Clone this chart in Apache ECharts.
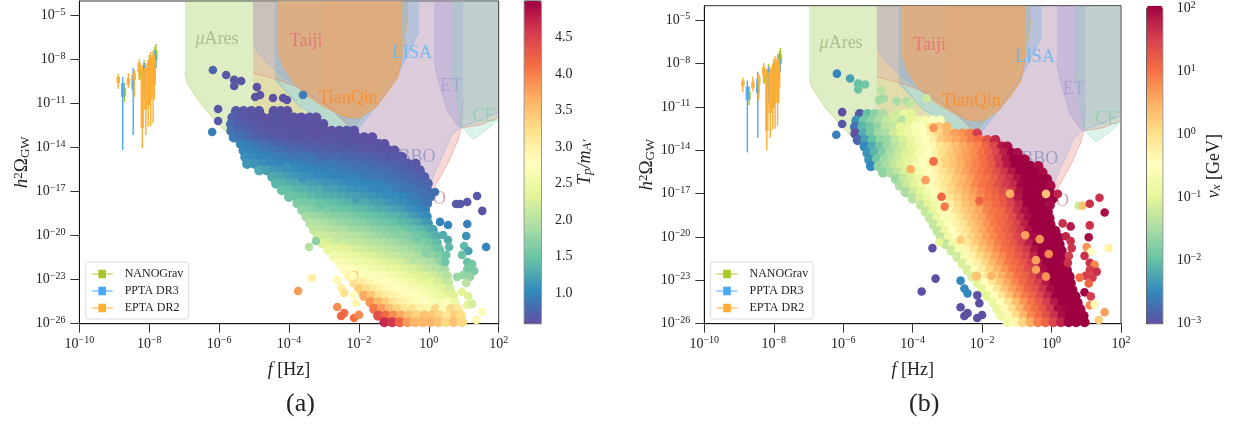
<!DOCTYPE html>
<html><head><meta charset="utf-8">
<script src="https://cdn.jsdelivr.net/npm/echarts@6/dist/echarts.min.js"></script>
<style>html,body{margin:0;padding:0;background:#fff}#c{width:1234px;height:425px}</style>
</head><body><div id="c"></div>
<script>
// ---------- values (log10 of f and of h^2 Omega) ----------
const omegaRows=[-11.5,-11.95,-12.4,-12.85,-13.3,-13.75,-14.2,-14.65,-15.1,-15.55,-16,-16.45,-16.9,-17.35,-17.8,-18.25,-18.7,-19.15,-19.6,-20.05,-20.5,-20.95,-21.4,-21.85,-22.3,-22.75,-23.2,-23.65,-24.1,-24.55,-25,-25.45,-25.9];
const fRows=[
[-5.52,-5.3,-5.08,-4.86,-4.44,-4.24,-4.05],
[-5.62,-5.41,-5.18,-4.97,-4.75,-4.52,-4.31,-4.08,-3.86,-3.65,-3.42,-3.22],
[-5.66,-5.45,-5.22,-5.0,-4.79,-4.56,-4.34,-4.12,-3.9,-3.69,-3.46,-3.24,-3.02],
[-5.65,-5.42,-5.21,-4.98,-4.76,-4.55,-4.33,-4.11,-3.88,-3.67,-3.45,-3.23,-3.0,-2.79,-2.56,-2.35,-2.14],
[-5.58,-5.36,-5.15,-4.92,-4.7,-4.49,-4.27,-4.04,-3.83,-3.6,-3.39,-3.17,-2.95,-2.73,-2.5,-2.29,-2.07,-1.85,-1.62],
[-5.38,-5.16,-4.94,-4.72,-4.5,-4.28,-4.06,-3.85,-3.63,-3.41,-3.2,-2.97,-2.75,-2.53,-2.31,-2.1,-1.88,-1.65,-1.43,-1.27],
[-5.3,-5.09,-4.87,-4.65,-4.43,-4.21,-3.99,-3.78,-3.55,-3.33,-3.12,-2.9,-2.68,-2.46,-2.24,-2.02,-1.8,-1.58,-1.36,-1.14,-0.98],
[-5.25,-5.03,-4.81,-4.59,-4.38,-4.16,-3.94,-3.71,-3.5,-3.28,-3.06,-2.84,-2.62,-2.4,-2.19,-1.96,-1.75,-1.53,-1.31,-1.09,-.87,-.77],
[-5.2,-4.98,-4.76,-4.54,-4.33,-4.11,-3.89,-3.67,-3.45,-3.24,-3.01,-2.79,-2.57,-2.35,-2.14,-1.91,-1.7,-1.48,-1.26,-1.04,-.82,-.6,-.38],
[-4.85,-4.63,-4.42,-4.2,-3.98,-3.76,-3.54,-3.32,-3.1,-2.89,-2.66,-2.45,-2.23,-2.01,-1.79,-1.57,-1.35,-1.13,-.91,-.7,-.48,-.26],
[-4.48,-4.26,-4.05,-3.83,-3.61,-3.39,-3.17,-2.95,-2.74,-2.52,-2.3,-2.08,-1.86,-1.64,-1.42,-1.2,-.98,-.76,-.55,-.33,-.13],
[-4.37,-4.15,-3.93,-3.71,-3.49,-3.28,-3.06,-2.84,-2.62,-2.4,-2.18,-1.97,-1.75,-1.53,-1.31,-1.09,-.87,-.65,-.43,-.21,-.03],
[-4.2,-3.98,-3.76,-3.55,-3.33,-3.11,-2.89,-2.67,-2.45,-2.23,-2.01,-1.79,-1.58,-1.36,-1.14,-.92,-.7,-.48,-.26,-.05],
[-4,-3.78,-3.56,-3.35,-3.13,-2.91,-2.69,-2.47,-2.25,-2.03,-1.81,-1.6,-1.38,-1.16,-.94,-.72,-.5,-.28,-.07,.03],
[-3.76,-3.55,-3.33,-3.11,-2.89,-2.67,-2.45,-2.23,-2.02,-1.8,-1.58,-1.36,-1.14,-.92,-.7,-.48,-.26,-.05],
[-3.62,-3.4,-3.18,-2.96,-2.74,-2.52,-2.3,-2.08,-1.86,-1.64,-1.43,-1.21,-.99,-.77,-.55,-.33,-.11],
[-3.5,-3.29,-3.07,-2.85,-2.63,-2.41,-2.19,-1.97,-1.75,-1.53,-1.31,-1.1,-.88,-.66,-.44,-.22,-.06],
[-3.39,-3.17,-2.95,-2.73,-2.51,-2.29,-2.07,-1.85,-1.64,-1.42,-1.2,-.98,-.76,-.54,-.32,-.1,-.03],
[-3.28,-3.06,-2.84,-2.62,-2.4,-2.18,-1.97,-1.75,-1.53,-1.31,-1.09,-.87,-.65,-.43,-.21,.01,.11],
[-3.18,-2.96,-2.74,-2.52,-2.3,-2.08,-1.86,-1.64,-1.42,-1.2,-.98,-.76,-.54,-.32,-.1,.12,.21],
[-3.05,-2.83,-2.61,-2.39,-2.17,-1.95,-1.73,-1.51,-1.29,-1.07,-.85,-.63,-.41,-.19,.03,.23],
[-2.88,-2.66,-2.44,-2.22,-2,-1.78,-1.56,-1.35,-1.13,-.91,-.69,-.47,-.25,-.03,.19,.29],
[-2.71,-2.49,-2.27,-2.05,-1.83,-1.61,-1.39,-1.17,-.95,-.73,-.51,-.29,-.07,.15,.29],
[-2.56,-2.34,-2.12,-1.9,-1.68,-1.46,-1.24,-1.02,-.8,-.58,-.36,-.14,.08,.3,.4],
[-2.42,-2.2,-1.98,-1.76,-1.54,-1.32,-1.1,-.88,-.66,-.44,-.22,0,.22,.44],
[-2.28,-2.06,-1.84,-1.62,-1.4,-1.18,-.96,-.74,-.52,-.3,-.08,.14,.36,.52],
[-2.13,-1.91,-1.69,-1.47,-1.25,-1.03,-.81,-.59,-.37,-.15,.07,.29,.55],
[-1.99,-1.77,-1.55,-1.33,-1.11,-.89,-.67,-.45,-.23,-.01,.21,.43,.6],
[-1.85,-1.63,-1.41,-1.19,-.97,-.75,-.53,-.31,-.09,.13,.35,.57,.69],
[-1.67,-1.45,-1.23,-1.01,-.79,-.57,-.35,-.13,.09,.31,.53,.75],
[-1.56,-1.34,-1.12,-.9,-.68,-.46,-.24,-.02,.2,.42,.64,.83],
[-1.45,-1.23,-1.01,-.79,-.57,-.35,-.13,.09,.31,.53,.75,.92],
[-1.27,-1.05,-.83,-.61,-.39,-.17,.05,.27,.49,.71,.95]];
const tpRows=[
[.68,.64,.62,.63,.6,.62,.6],
[.72,.66,.63,.62,.6,.61,.62,.6,.63,.6,.62,.6],
[.78,.7,.66,.63,.62,.6,.62,.6,.61,.6,.62,.6,.6],
[.85,.78,.72,.68,.65,.62,.62,.63,.6,.62,.6,.6,.62,.6,.6,.62,.6],
[.92,.85,.78,.72,.7,.66,.65,.63,.64,.62,.62,.6,.62,.62,.6,.62,.6,.6,.6],
[.98,.92,.86,.82,.78,.74,.72,.7,.68,.66,.66,.64,.66,.63,.62,.64,.62,.6,.62,.6],
[1.02,.98,.95,.9,.86,.84,.8,.78,.76,.74,.72,.72,.7,.68,.7,.66,.64,.65,.62,.62,.6],
[1.08,1.04,1.0,.98,.95,.9,.88,.86,.84,.82,.8,.78,.8,.76,.74,.72,.72,.7,.68,.66,.64,.62],
[1.15,1.12,1.08,1.05,1.02,1,.98,.96,.94,.9,.88,.9,.86,.84,.82,.8,.8,.76,.74,.72,.7,.66,.62],
[1.25,1.2,1.15,1.12,1.1,1.05,1.02,1,.98,.95,.96,.92,.9,.88,.88,.84,.82,.8,.76,.74,.7,.65],
[1.3,1.25,1.2,1.15,1.12,1.1,1.05,1.04,1,1,.98,.98,.92,.9,.9,.85,.84,.8,.78,.74,.7],
[1.38,1.35,1.3,1.28,1.2,1.18,1.14,1.12,1.1,1.06,1.04,1.02,1,.98,.95,.9,.88,.85,.8,.78,.74],
[1.45,1.42,1.38,1.35,1.3,1.28,1.22,1.2,1.16,1.12,1.1,1.08,1.04,1,1,.95,.9,.88,.84,.78],
[1.52,1.48,1.45,1.4,1.38,1.32,1.3,1.26,1.22,1.2,1.15,1.12,1.1,1.05,1.04,1,.95,.9,.86,.82],
[1.62,1.58,1.55,1.5,1.45,1.42,1.38,1.35,1.3,1.28,1.22,1.2,1.15,1.1,1.08,1,.96,.88],
[1.72,1.68,1.62,1.6,1.55,1.5,1.48,1.42,1.4,1.36,1.3,1.28,1.22,1.18,1.1,1.05,.98],
[1.88,1.82,1.78,1.72,1.68,1.65,1.6,1.55,1.5,1.48,1.42,1.38,1.34,1.28,1.2,1.12,1.05],
[1.98,1.94,1.9,1.84,1.8,1.75,1.7,1.68,1.6,1.55,1.52,1.48,1.4,1.35,1.28,1.2,1.15],
[2.08,2.04,2,1.95,1.92,1.85,1.82,1.78,1.72,1.68,1.62,1.58,1.52,1.45,1.4,1.32,1.25],
[2.18,2.14,2.1,2.05,2.02,1.98,1.92,1.88,1.82,1.78,1.72,1.68,1.62,1.55,1.48,1.4,1.32],
[2.3,2.25,2.2,2.16,2.1,2.08,2.02,1.98,1.92,1.88,1.82,1.76,1.7,1.64,1.55,1.42],
[2.42,2.38,2.32,2.28,2.22,2.18,2.12,2.08,2.02,1.96,1.92,1.85,1.78,1.7,1.6,1.5],
[2.55,2.5,2.45,2.4,2.32,2.28,2.2,2.15,2.1,2.02,1.98,1.9,1.82,1.75,1.65],
[2.68,2.62,2.55,2.5,2.45,2.38,2.32,2.25,2.2,2.12,2.06,2,1.92,1.82,1.72],
[2.82,2.75,2.7,2.62,2.58,2.5,2.42,2.36,2.3,2.22,2.15,2.08,2,1.9],
[2.95,2.88,2.8,2.76,2.68,2.62,2.55,2.48,2.4,2.32,2.25,2.18,2.08,2],
[3.2,3.05,2.95,2.85,2.8,2.72,2.65,2.58,2.5,2.42,2.35,2.25,2.08],
[3.4,3.25,3.05,2.95,2.88,2.8,2.75,2.66,2.6,2.52,2.42,2.32,2.2],
[3.7,3.45,3.2,3.05,2.95,2.88,2.82,2.75,2.65,2.58,2.45,2.38,2.3],
[3.85,3.6,3.4,3.15,3,2.92,2.85,2.78,2.7,2.62,2.85,2.5],
[4.05,3.8,3.55,3.35,3.15,3.2,3,2.92,3.3,2.85,3.3,3.1],
[4.4,4.15,3.9,3.7,3.5,3.35,3.5,3.45,3.3,3.1,3.4,3.25],
[4.7,4.6,4.2,3.8,3.6,3.6,3.6,3.5,3.3,3.5,3.3]];
const vxRows=[
[-2.9,-2.0,-1.7,-1.5,-1.2,-.9,-1.0],
[-2.4,-1.9,-1.7,-1.5,-1.3,-1.15,-1.4,-1,-.8,-.7,-.5,-.6],
[-2.7,-2.1,-1.9,-1.7,-1.4,-1.3,-1.0,-.9,-.6,-.55,-.1,.2,.4],
[-3,-2.2,-1.9,-1.6,-1.5,-1.2,-1.0,-.85,-.7,-.5,-.2,.1,.4,.6,.7,.85,1.5],
[-2.8,-2.3,-2,-1.7,-1.6,-1.3,-1.1,-.9,-.7,-.5,-.2,.2,.4,.55,.7,.9,1.0,1.3,1.7],
[-2.5,-2.2,-1.9,-1.6,-1.4,-1.2,-1,-.8,-.6,-.4,-.1,.1,.35,.55,.7,.85,1.1,1.4,1.8,1.9],
[-2.4,-2.1,-1.8,-1.5,-1.3,-1.1,-.95,-.7,-.5,-.3,0,.2,.4,.6,.75,.95,1.15,1.4,1.75,2,1.9],
[-2.4,-1.9,-1.6,-1.4,-1.2,-1.0,-.85,-.6,-.4,-.15,.1,.25,.5,.65,.8,1.0,1.2,1.5,1.8,2,2,1.95],
[-2.5,-1.7,-1.5,-1.3,-1.1,-.9,-.75,-.5,-.3,-.1,.15,.3,.5,.7,.85,1.0,1.2,1.55,1.8,2,2,2,1.9],
[-1.7,-1.5,-1.3,-1.1,-.9,-.7,-.5,-.3,-.05,.15,.4,.6,.8,.95,1.1,1.3,1.55,1.8,2,2,2,1.9],
[-1.6,-1.3,-1.1,-.9,-.7,-.45,-.2,0,.25,.4,.65,.85,.95,1.15,1.4,1.6,1.85,2,2,2,2],
[-1.5,-1.2,-1,-.8,-.55,-.3,-.05,.15,.4,.55,.8,.95,1.1,1.3,1.5,1.65,1.95,2,2,2,1.9],
[-1.5,-1.2,-.95,-.7,-.45,-.2,.05,.25,.45,.65,.85,1.0,1.15,1.35,1.55,1.85,2,2,2,2],
[-1.4,-1.1,-.85,-.6,-.35,-.1,.1,.35,.55,.75,.95,1.05,1.25,1.5,1.8,2,2,2,1.95,2],
[-1.3,-1,-.75,-.5,-.2,.05,.3,.5,.7,.9,1.05,1.2,1.45,1.7,2,2,2,1.9],
[-1.3,-.95,-.65,-.4,-.1,.15,.35,.55,.8,.95,1.05,1.3,1.6,1.85,2,2,2],
[-1.3,-.9,-.6,-.35,-.1,.2,.4,.6,.85,1.0,1.1,1.35,1.65,1.9,2,2,2],
[-1.3,-.9,-.55,-.3,-.05,.25,.45,.7,.9,1.05,1.2,1.45,1.75,2,2,2,2],
[-1.3,-.85,-.5,-.25,0,.3,.55,.75,.95,1.1,1.3,1.55,1.85,2,2,2,2],
[-1.3,-.8,-.45,-.2,.1,.35,.6,.8,1,1.15,1.4,1.6,1.9,2,2,2,2],
[-1.3,-.75,-.4,-.1,.2,.45,.65,.9,1.05,1.25,1.5,1.75,2,2,2,2],
[-1.2,-.7,-.35,-.05,.25,.5,.75,.95,1.1,1.3,1.55,1.85,2,2,2,2],
[-1.2,-.65,-.3,.05,.3,.6,.8,1,1.2,1.4,1.7,2,2,2,2],
[-1.1,-.6,-.25,.1,.4,.65,.9,1.05,1.25,1.5,1.8,2,2,2,1.95],
[-1.1,-.55,-.2,.15,.45,.7,.95,1.1,1.35,1.6,1.9,2,2,2],
[-1.1,-.55,-.15,.2,.5,.75,1,1.15,1.4,1.7,2,2,2,2],
[-1,-.5,-.1,.25,.55,.8,1.05,1.25,1.5,1.8,2,2,2],
[-1,-.5,-.1,.3,.6,.85,1.1,1.3,1.6,1.9,2,2,2],
[-1,-.5,-.1,.3,.65,.9,1.1,1.4,1.7,2,2,2,2],
[-.9,-.5,-.05,.35,.7,.95,1.2,1.5,1.8,2,2,2],
[-.9,-.45,0,.4,.75,1,1.25,1.55,1.9,1.95,2,2],
[-.85,-.4,.05,.45,.8,1.05,1.3,1.6,1.9,2,2,2],
[-.8,-.35,.1,.5,.85,1.1,1.4,1.7,2,2,2]];
// isolated and speckle points: log f, log Omega, Tp/mA', log vx
const strayF=[-6.18,-5.8,-5.57,-5.37,-5.57,-4.92,-4.97,-4.83,-4.46,-4.17,-4.06,-3.6,-6.03,-6.03,-6.2,.18,1.38,.78,.9,1.1,1.53,1.1,.55,.32,.41,1.07,.55,.58,1.64,1.01,1.13,.5,.95,.47,1.1,1.24,1.1,1.3,.98,.81,1.18,1.07,.95,1.13,1.1,1.24,1.53,1.36,-3.43,-3.23,-3.34,-3.74,-2.62,-2.51,-2.42,-2.14,-2.62,-2.42,-2.51,-2.14,-2,-2.08,-2.14,
-3.4,-4.06,-3.63,-3.17,-3.08,-2.08,-2.62,-2.17,-1.74,-.76,-.34,-.08,-.45,-.45,-.16,-.16,-1.2,-3.4];
const strayO=[-8.7,-9.04,-9.38,-9.45,-9.79,-9.86,-10.54,-10.41,-10.61,-10.61,-10.75,-10.41,-11.36,-12.18,-12.93,-17.02,-17.29,-17.84,-17.84,-17.7,-18.31,-19.2,-19.27,-19.06,-19.95,-20.02,-20.29,-20.77,-20.77,-20.7,-21.04,-21.31,-21.31,-21.79,-21.79,-21.93,-22.27,-22.4,-22.68,-22.81,-22.81,-23.22,-23.83,-24.11,-24.72,-24.65,-25.2,-25.74,-20.77,-20.36,-22.88,-23.77,-23.02,-23.56,-23.9,-22.68,-24.86,-25.27,-25.47,-25.61,-25.4,-24.58,-24.04,
-14.77,-15.31,-16.07,-17.22,-17.9,-17.5,-20.2,-22.74,-22.68,-19.88,-20.15,-21.18,-21.6,-22.27,-22.74,-17.02,-17,-12.45];
const strayTp=[.75,.65,.62,.62,.62,.6,.62,.62,.6,.6,.6,.9,.62,.65,.95,.85,.65,.65,.65,.65,.62,.95,1,1,1.3,1.1,1.3,1.4,1,1.4,1.2,1.5,1.5,1.5,1.45,1.55,1.6,1.6,1.75,1.8,1.75,2,2.35,2.3,2.35,2.2,2.7,2.9,2,1.7,3,3.8,2.9,3,3.2,3.5,3.9,4.1,4.2,4.1,3.9,2.9,2.8,
.9,1.1,1.1,1.35,1.5,1.2,2.1,2.85,2.7,1.7,1.55,1.7,2,2.25,2.3,.85,1.05,.6];
const strayVx=[-2.5,-2.3,-2,-1.9,-1.95,-1.4,-1.55,-1.55,-1.5,-1.5,-1.3,-1.2,-3,-2.9,-2.6,1.7,1.6,-1.2,.3,1.6,1.9,1.6,1.8,1.6,1.7,1.9,1.6,1.6,-.3,.7,-.5,1.5,1.6,1.6,1.6,.8,1.5,1.6,1.5,1,1.5,1.1,2,1.5,.8,-.4,.6,.2,-3,-1,-3,-3,-2.5,-2.5,-2.5,.3,-3,-3,-3,-3,-3,-3,-3,
1,.5,.6,1.1,.9,1.1,.2,.3,.4,.6,.7,.8,.6,.6,.7,.3,.5,.7];
// detector sensitivity curves
const detectorNames=['μAres','DECIGO','BBO','LISA','Taiji','TianQin','ET','CE'];
const detectorColors=['#9dc84f','#e0705f','#8aa8f0','#63afe2','#e8aa73','#ff8c1a','#a090d5','#7fd6b0'];
const detectorAlpha=[.33,.27,.25,.3,.8,.06,.3,.27];
const detF=[
[-6.98,-6.92,-6.55,-6.06,-5.6,-4.92,-4.4,-3.68,-2.83,-2.25,-1.68,-1.1,-.82,-.6],
[-5.03,-4.31,-3.68,-2.83,-2.11,-.82,-.11,.15,.55,.84,.93,1.47,1.98],
[-5.03,-4.89,-4.63,-4.34,-4.06,-3.68,-2.83,-2.11,-1.39,-.39,-.02,.3,.65,.93,1.47,1.98],
[-4.4,-3.68,-3.03,-2.54,-2.11,-1.48,-.82,-.28],
[-4.34,-4.17,-3.88,-3.54,-2.97,-2.4,-1.97,-1.54,-1.17,-.88,-.76],
[-3.03,-2.4,-1.97,-1.54,-1.17,-.88,-.7,-.6],
[.15,.27,.52,.81,.93,.98],
[.67,.7,.81,.9,1.1,1.27,1.47,1.75,1.98]];
const detO=[
[-8.84,-9.59,-10.95,-12.31,-13.47,-15.04,-16.2,-16.75,-15.52,-13.13,-11.09,-9,-7.4,-5],
[-8.91,-9.38,-9.93,-11.29,-13,-17.56,-17.4,-16.75,-15.04,-13.47,-12.66,-12.45,-11.97],
[-6.86,-7.54,-8.22,-8.84,-9.38,-9.93,-11.29,-12.79,-15.52,-17.22,-16.75,-15.04,-13.13,-12.59,-12.11,-11.63],
[-9.38,-11.22,-12.11,-12.79,-13,-11.09,-8.7,-6.11],
[-7.27,-8.5,-9.59,-10.41,-11.29,-11.91,-11.91,-11.29,-10.2,-9.18,-7.68],
[-10.9,-11.91,-12,-11.3,-10.2,-9.2,-7,-5],
[-8.02,-9.38,-11.43,-12.45,-12.66,-10.75],
[-8.7,-9.38,-10.75,-12.45,-13,-13.4,-13.13,-12.59,-12.1]];
// beige wedge seen below DECIGO and left of the teal zone
const wedgeF=[-5.03,-4.31,-3.68,-3.0,-3.0,-3.68,-4.4,-4.92,-5.03];
const wedgeO=[-8.91,-9.38,-11.22,-13,-16.4,-16.6,-16.1,-14.95,-14.7];
const labelF=[-6.06,-.48,-.34,-.48,-3.51,-2.31,.64,1.58];
const labelO=[-6.59,-17.5,-14.63,-7.54,-6.77,-10.61,-9.79,-11.84];
const labelColors=['#a3b27a','#c98f9e','#8c93c0','#5bb5f5','#e56a70','#ff8a1f','#a99bd0','#86d0ae'];
const labelTexts=['{i|μ}Ares','DECIGO','BBO','LISA','Taiji','TianQin','ET','CE'];
// pulsar timing arrays: log f, whisker top, box top, box bottom, whisker bottom (log Omega)
const ptaNames=['NANOGrav','PPTA DR3','EPTA DR2'];
const ptaColors=['#a8c72b','#4aa8f8','#ffad33'];
const ptaF=[[-8.71,-8.26,-8.15,-8.0,-7.84,-7.81],[-8.76,-8.46,-8.15,-8.0,-7.84],[-8.89,-8.6,-8.43,-8.29,-8.2,-8.1,-8.03,-7.96,-7.89,-7.86]];
const ptaHi=[[-9.59,-8.36,-8.02,-7.68,-7.13,-6.93],[-9.18,-8.57,-8.22,-8.02,-7.34],[-8.97,-8.91,-8.7,-7.95,-8.36,-8.22,-8.02,-7.47,-7.34,-7.68]];
const ptaQ3=[[-9.93,-8.7,-8.4,-8.02,-7.47,-7.34],[-9.59,-9.04,-8.43,-8.36,-7.68],[-9.18,-9.25,-8.91,-8.22,-8.7,-8.57,-8.3,-7.88,-7.68,-8.02]];
const ptaQ1=[[-10.47,-9.18,-8.9,-9.04,-8.02,-8.02],[-10.54,-10.06,-9.72,-9.72,-8.57],[-9.59,-9.72,-9.38,-8.84,-12.66,-11.43,-11.09,-10.75,-10.41,-9.72]];
const ptaLo=[[-10.88,-9.38,-9.38,-9.72,-8.7,-8.57],[-14.15,-13.13,-10.75,-11.09,-9.18],[-10,-9.93,-10.54,-9.38,-14.02,-13.13,-12.59,-12.52,-12.31,-10.75]];
// tick labels
const fTicks=[-10,-8,-6,-4,-2,0,2];
const omegaTicks=[-26,-23,-20,-17,-14,-11,-8,-5];
const tpTicks=[1,1.5,2,2.5,3,3.5,4,4.5];
const vxTicks=[-3,-2,-1,0,1,2];
const spectral=['#5e4fa2','#3288bd','#66c2a5','#abdda4','#e6f598','#ffffbf','#fee08b','#fdae61','#f46d43','#d53e4f','#9e0142'];

// ---------- chart ----------
const FONT='"Liberation Serif",serif';
const INK='#222';
const tickRich={b:{fontFamily:FONT,fontSize:14,color:INK,lineHeight:16},s:{fontFamily:FONT,fontSize:10,color:INK,padding:[0,0,7,0]}};
const pow10=e=>Math.pow(10,e);
const expFmt=v=>{const e=Math.round(Math.log10(v));return '{b|10}{s|'+(e<0?'−'+(-e):e)+'}';};
function logAxis(grid,lo,hi,ticks,margin,extra){
  const vals=ticks.map(pow10);
  return Object.assign({type:'log',logBase:10,gridIndex:grid,min:pow10(lo),max:pow10(hi),
    axisLine:{show:true,onZero:false,lineStyle:{color:'#111',width:1}},
    axisTick:{show:true,length:9,inside:false,customValues:vals,lineStyle:{color:'#333',width:1}},
    minorTick:{show:false},splitLine:{show:false},
    axisLabel:{show:true,margin:margin,customValues:vals,formatter:expFmt,rich:tickRich,showMinLabel:true,showMaxLabel:true,hideOverlap:false}},extra||{});
}
const grids=[
 {left:79.4,top:1,width:419.3,height:322.7,show:true,borderColor:'#333',borderWidth:1,backgroundColor:'#fff'},
 {left:704.3,top:5.7,width:416.7,height:318,show:true,borderColor:'#333',borderWidth:1,backgroundColor:'#fff'},
 {left:524.3,top:1,width:16.7,height:322.7,show:true,borderColor:'#333',borderWidth:1},
 {left:1146.7,top:5.7,width:16,height:318,show:true,borderColor:'#333',borderWidth:1}];
const bigI={fontFamily:FONT,fontSize:18,fontStyle:'italic',color:INK};
const subI={fontFamily:FONT,fontSize:13,fontStyle:'italic',color:INK,padding:[5,0,0,0]};
const xName={name:'{i|f} [Hz]',nameLocation:'middle',nameGap:38,nameTextStyle:{fontFamily:FONT,fontSize:18,color:INK,rich:{i:bigI}}};
const yName={name:'{i|h}{s|2}Ω{u|GW}',nameLocation:'middle',nameGap:46,nameRotate:90,nameTextStyle:{fontFamily:FONT,fontSize:19,color:INK,rich:{i:{fontFamily:FONT,fontSize:19,fontStyle:'italic',color:INK},s:{fontFamily:FONT,fontSize:13,color:INK,padding:[0,0,8,0]},u:{fontFamily:FONT,fontSize:13,color:INK,padding:[6,0,0,0]}}}};
const xAxes=[logAxis(0,-10,2,fTicks,12,xName),logAxis(1,-10,2,fTicks,12,xName),
 {type:'value',gridIndex:2,show:false,min:0,max:1},{type:'value',gridIndex:3,show:false,min:0,max:1}];
const yAxes=[logAxis(0,-26,-4,omegaTicks,14,yName),logAxis(1,-26,-4,omegaTicks,14,yName),
 {type:'value',gridIndex:2,position:'right',min:.583,max:5,
  axisLine:{show:false},splitLine:{show:false},
  axisTick:{show:true,length:9,customValues:tpTicks,lineStyle:{color:'#333'}},
  axisLabel:{margin:14,customValues:tpTicks,fontFamily:FONT,fontSize:14,color:INK,formatter:v=>v.toFixed(1)},
  name:"{i|T}{u|p}{i|/m}{u|A′}",nameLocation:'middle',nameGap:35,nameRotate:90,
  nameTextStyle:{fontFamily:FONT,fontSize:18,color:INK,rich:{i:bigI,u:subI}}},
 logAxis(3,-3,2,vxTicks,14,{position:'right',axisLine:{show:false},
  name:'{i|v}{u|x} [GeV]',nameLocation:'middle',nameGap:41,nameRotate:90,
  nameTextStyle:{fontFamily:FONT,fontSize:18,color:INK,rich:{i:bigI,u:subI}}})];

const series=[];
function addPanel(g,values,strayValues){
  const regionSeries=i=>({type:'line',name:detectorNames[i],xAxisIndex:g,yAxisIndex:g,z:1,silent:true,symbol:'none',animation:false,
      data:detF[i].map((e,k)=>[pow10(e),pow10(detO[i][k])]),
      lineStyle:{color:detectorColors[i],width:.8,opacity:.5},
      areaStyle:{origin:'end',color:detectorColors[i],opacity:detectorAlpha[i]}});
  series.push(regionSeries(0));
  series.push({type:'custom',xAxisIndex:g,yAxisIndex:g,z:1,silent:true,animation:false,encode:{x:0,y:1},
    data:wedgeF.map((e,k)=>[pow10(e),pow10(wedgeO[k])]),
    renderItem:(p,api)=>{
      if(p.dataIndex!==0) return null;
      return {type:'polygon',shape:{points:wedgeF.map((e,k)=>api.coord([pow10(e),pow10(wedgeO[k])]))},style:{fill:'#e8bc70',opacity:.3}};
    }});
  for(let i=1;i<detectorNames.length;i++) series.push(regionSeries(i));
  series.push({type:'scatter',xAxisIndex:g,yAxisIndex:g,z:2,silent:true,symbolSize:0,animation:false,
    data:labelTexts.map((t,i)=>({value:[pow10(labelF[i]),pow10(labelO[i])],label:{show:true,position:'inside',formatter:t,color:labelColors[i],
      fontFamily:FONT,fontSize:18,rich:{i:{fontFamily:FONT,fontSize:18,fontStyle:'italic',color:labelColors[i]}}}}))});
  ptaNames.forEach((nm,i)=>{
    series.push({type:'custom',name:nm,xAxisIndex:g,yAxisIndex:g,z:3,silent:true,animation:false,
      itemStyle:{color:ptaColors[i]},
      encode:{x:0,y:[1,2,3,4]},
      data:ptaF[i].map((e,k)=>[pow10(e),pow10(ptaHi[i][k]),pow10(ptaQ3[i][k]),pow10(ptaQ1[i][k]),pow10(ptaLo[i][k])]),
      renderItem:(p,api)=>{
        const a=api.coord([api.value(0),api.value(1)]),b=api.coord([api.value(0),api.value(2)]),
              c=api.coord([api.value(0),api.value(3)]),d=api.coord([api.value(0),api.value(4)]);
        return {type:'group',children:[
          {type:'line',shape:{x1:a[0],y1:a[1],x2:d[0],y2:d[1]},style:{stroke:ptaColors[i],lineWidth:1.4}},
          {type:'rect',shape:{x:b[0]-1.8,y:b[1],width:3.6,height:c[1]-b[1]},style:{fill:ptaColors[i],opacity:.85}}]};
      }});
  });
  const pts=[];
  omegaRows.forEach((o,r)=>fRows[r].forEach((e,k)=>pts.push([pow10(e),pow10(o),values[r][k]])));
  series.push({type:'scatter',xAxisIndex:g,yAxisIndex:g,z:4,silent:true,symbolSize:10.2,animation:false,
    data:pts,encode:{x:0,y:1},itemStyle:{opacity:1}});
  const a=series.length-1;
  series.push({type:'scatter',xAxisIndex:g,yAxisIndex:g,z:5,silent:true,symbolSize:8.6,animation:false,
    data:strayF.map((e,k)=>[pow10(e),pow10(strayO[k]),strayValues[k]]),encode:{x:0,y:1},itemStyle:{opacity:1}});
  return [a,a+1];
}
const s0=addPanel(0,tpRows,strayTp);
const s1=addPanel(1,vxRows,strayVx);
const legendIcon='path://M0 4H7V0H15V4H22V5H15V9H7V5H0Z';
const mkLegend=l=>({left:l,top:262,orient:'vertical',itemWidth:21,itemHeight:9,itemGap:5,padding:[6,5,5,6],
  backgroundColor:'#fff',borderColor:'#ddd',borderWidth:1,borderRadius:2,selectedMode:false,z:6,
  textStyle:{fontFamily:FONT,fontSize:12,color:INK,padding:[0,0,0,7]},
  data:ptaNames.map(n=>({name:n,icon:legendIcon}))});
const mkVM=(idx,lo,hi,l,t,w,h)=>({type:'continuous',seriesIndex:idx,dimension:2,min:lo,max:hi,calculable:false,show:true,
  left:l,top:t,itemWidth:w,itemHeight:h,padding:0,text:null,showLabel:false,inRange:{color:spectral},
  realtime:false,hoverLink:false,z:1,textStyle:{fontSize:0}});
const cap=(txt,l)=>({type:'text',left:l,top:391,silent:true,style:{text:txt,fontFamily:FONT,fontSize:26,fill:INK}});
echarts.init(document.getElementById('c'),null,{renderer:'canvas'}).setOption({
  animation:false,backgroundColor:'#fff',
  grid:grids,xAxis:xAxes,yAxis:yAxes,series:series,
  legend:[mkLegend(85.7),mkLegend(710.5)],
  visualMap:[mkVM(s0,.583,5,524.3,1,16.7,322.7),mkVM(s1,-3,2,1146.7,5.7,16,318)],
  graphic:[cap('(a)',286),cap('(b)',909)]
});
</script></body></html>
